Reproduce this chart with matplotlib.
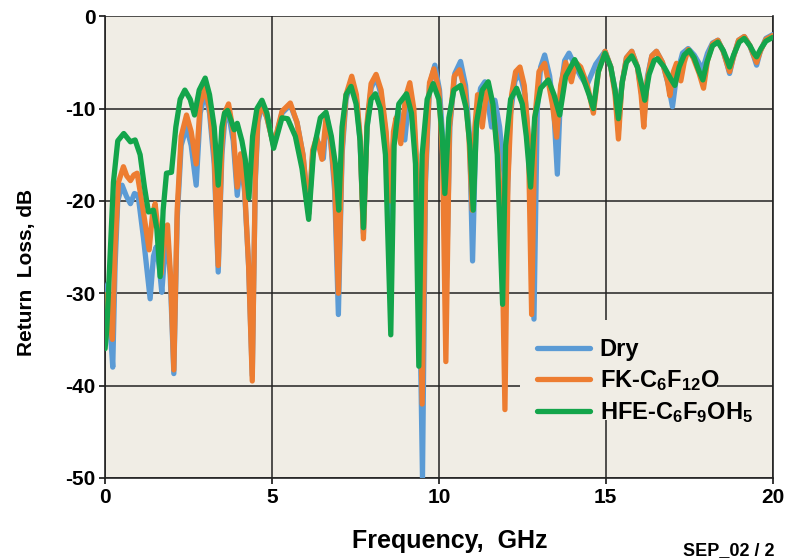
import matplotlib
matplotlib.use('Agg')
import matplotlib.pyplot as plt
from matplotlib.patches import Rectangle
import numpy as np

plt.rcParams['font.family'] = ['Liberation Sans', 'DejaVu Sans']
plt.rcParams['font.weight'] = 'bold'
plt.rcParams['axes.unicode_minus'] = False
plt.rcParams['mathtext.fontset'] = 'custom'
plt.rcParams['mathtext.rm'] = 'Liberation Sans:bold'
plt.rcParams['mathtext.bf'] = 'Liberation Sans:bold'
plt.rcParams['mathtext.default'] = 'rm'

# (frequency GHz, return loss dB)
dry = [(0.00, -33), (0.08, -29), (0.14, -33), (0.23, -38), (0.30, -27), (0.38, -20), (0.51, -18.3),
       (0.64, -19.5), (0.76, -20.3), (0.88, -19.2), (0.99, -19.4), (1.15, -24), (1.35, -30.6),
       (1.45, -26), (1.53, -25), (1.62, -27), (1.70, -29.9), (1.80, -25), (1.87, -24.3), (1.95, -28),
       (2.06, -38.7), (2.16, -22), (2.28, -14), (2.44, -12), (2.58, -14), (2.73, -18.3), (2.85, -10.5),
       (3.00, -8.2), (3.13, -10.5), (3.27, -16), (3.39, -27.7), (3.50, -15), (3.58, -11.5), (3.70, -10.5),
       (3.84, -13.5), (3.96, -19.4), (4.06, -15.6), (4.18, -19), (4.30, -27), (4.41, -38.9), (4.50, -18),
       (4.58, -11.5), (4.70, -9.6), (4.85, -11), (5.05, -14), (5.30, -10.5), (5.55, -9.6), (5.75, -11.5),
       (5.93, -15), (6.10, -21.4), (6.22, -15), (6.34, -13.5), (6.46, -14), (6.54, -15.4), (6.64, -10.8),
       (6.76, -13.5), (6.88, -19), (6.99, -32.3), (7.10, -15), (7.22, -9), (7.39, -6.9), (7.53, -9),
       (7.64, -13.5), (7.74, -23.5), (7.85, -12), (7.97, -7.8), (8.12, -6.6), (8.27, -8.5), (8.42, -13),
       (8.55, -22), (8.65, -13), (8.78, -10.2), (8.98, -13.4), (9.13, -8), (9.25, -11), (9.38, -20),
       (9.51, -50), (9.60, -18), (9.72, -7.5), (9.88, -5.3), (10.02, -8), (10.13, -14), (10.23, -28.3),
       (10.33, -12), (10.48, -6.2), (10.65, -4.9), (10.80, -7.5), (10.92, -13), (11.01, -26.5),
       (11.12, -11), (11.25, -7.8), (11.38, -7.1), (11.58, -12), (11.68, -9.1), (11.82, -12),
       (11.95, -17), (12.03, -22), (12.13, -11), (12.28, -7), (12.43, -6.2), (12.58, -8.5), (12.72, -15),
       (12.85, -32.8), (12.95, -10), (13.05, -5.5), (13.17, -4.2), (13.32, -6.5), (13.45, -10.5),
       (13.55, -17.1), (13.65, -8), (13.77, -4.8), (13.90, -4), (14.10, -5.5), (14.25, -6.5),
       (14.43, -7.5), (14.70, -5.2), (14.98, -3.8), (15.15, -5.5), (15.28, -8), (15.38, -12.4),
       (15.48, -7.5), (15.62, -4.5), (15.78, -3.8), (15.95, -5.5), (16.06, -8), (16.15, -10.9),
       (16.25, -6.5), (16.38, -4.3), (16.52, -3.8), (16.70, -5), (16.88, -7.5), (17.00, -9.8),
       (17.12, -6.5), (17.30, -4), (17.47, -3.5), (17.65, -4.2), (17.78, -5), (17.90, -5.8), (18.05, -4),
       (18.20, -2.9), (18.36, -2.6), (18.52, -3.8), (18.62, -5), (18.71, -6.2), (18.82, -4.5),
       (18.98, -2.6), (19.15, -2.2), (19.32, -3.2), (19.44, -4.4), (19.52, -5.3), (19.63, -3.8),
       (19.80, -2.4), (20.00, -2.0)]

fk = [(0.00, -33), (0.08, -30), (0.14, -32), (0.22, -35), (0.30, -25), (0.40, -18), (0.55, -16.3),
      (0.65, -17.3), (0.76, -17.8), (0.86, -17.2), (0.96, -17), (1.12, -20.5), (1.32, -25.3),
      (1.42, -21.5), (1.50, -20.3), (1.58, -23), (1.68, -27.9), (1.78, -23), (1.87, -22.6), (1.96, -28),
      (2.06, -38.3), (2.16, -21), (2.28, -13), (2.44, -10.7), (2.58, -12.5), (2.73, -16), (2.85, -9.5),
      (3.00, -7.7), (3.13, -10), (3.27, -15), (3.39, -27), (3.50, -14), (3.58, -10.5), (3.70, -9.5),
      (3.84, -12.5), (3.96, -18.5), (4.06, -14.9), (4.18, -18.5), (4.30, -27), (4.41, -39.5),
      (4.50, -17.5), (4.58, -11), (4.70, -9.5), (4.85, -11), (5.05, -14), (5.30, -10.3), (5.55, -9.4),
      (5.75, -11.5), (5.93, -15), (6.10, -21.4), (6.22, -14.5), (6.34, -13.1), (6.50, -15.5),
      (6.62, -11), (6.76, -13.5), (6.88, -18), (6.99, -30), (7.10, -14.5), (7.22, -8.5), (7.39, -6.5),
      (7.53, -8.5), (7.64, -13), (7.74, -24.1), (7.85, -11.5), (7.97, -7.3), (8.12, -6.3), (8.27, -8),
      (8.42, -12.5), (8.55, -20), (8.64, -12.5), (8.72, -11), (8.86, -13.8), (9.00, -8.8), (9.13, -7.2),
      (9.25, -10), (9.38, -19), (9.50, -42), (9.60, -17), (9.72, -7.2), (9.85, -5.7), (10.00, -8),
      (10.11, -15), (10.21, -37.4), (10.32, -12), (10.46, -6.5), (10.62, -5.8), (10.78, -8),
      (10.90, -13), (11.00, -21), (11.08, -12), (11.16, -8.5), (11.30, -12), (11.45, -7.5),
      (11.60, -9.5), (11.75, -14), (11.88, -22), (11.98, -42.6), (12.07, -18), (12.18, -8.5),
      (12.30, -6), (12.43, -5.5), (12.56, -7.5), (12.68, -13), (12.78, -32.3), (12.88, -11),
      (13.00, -6), (13.17, -5.1), (13.30, -7.5), (13.40, -9.5), (13.53, -13.1), (13.65, -7.5),
      (13.80, -5), (13.97, -7.1), (14.10, -5), (14.25, -5.5), (14.45, -7.5), (14.63, -10.5), (14.78, -6),
      (14.98, -3.8), (15.15, -5.5), (15.28, -8.5), (15.38, -13.3), (15.48, -7.5), (15.62, -4.5),
      (15.78, -3.8), (15.95, -5.5), (16.06, -8.5), (16.14, -12), (16.24, -7), (16.38, -4.3),
      (16.52, -3.8), (16.70, -5), (16.85, -7), (16.92, -8.6), (17.03, -6), (17.12, -5.1), (17.25, -7),
      (17.35, -5), (17.47, -3.6), (17.62, -4.5), (17.80, -6.2), (17.93, -7.8), (18.05, -4.8),
      (18.20, -3), (18.36, -2.6), (18.52, -3.8), (18.62, -5), (18.71, -6), (18.82, -4.5), (18.98, -2.6),
      (19.15, -2.2), (19.32, -3.2), (19.44, -4.3), (19.52, -5), (19.63, -3.8), (19.80, -2.5),
      (20.00, -2.1)]

hfe = [(0.00, -36), (0.05, -34), (0.15, -26), (0.25, -18), (0.38, -13.5), (0.56, -12.7), (0.76, -13.6),
       (0.90, -13.4), (1.05, -15), (1.18, -18.5), (1.30, -21.2), (1.45, -21), (1.55, -23), (1.65, -28.2),
       (1.74, -21), (1.84, -17), (1.99, -16.9), (2.12, -12), (2.25, -9), (2.39, -8), (2.55, -9),
       (2.68, -10.7), (2.82, -8), (3.00, -6.7), (3.13, -8.5), (3.27, -12), (3.39, -18.3), (3.50, -12),
       (3.58, -10.5), (3.67, -10.2), (3.87, -12.3), (3.96, -11.6), (4.10, -13.5), (4.20, -15.5),
       (4.31, -19.7), (4.42, -13), (4.55, -10), (4.70, -9.1), (4.85, -10.5), (5.05, -14.3), (5.30, -11),
       (5.47, -11.1), (5.70, -13), (5.90, -16.5), (6.10, -22), (6.25, -14.5), (6.45, -11), (6.62, -10.4),
       (6.78, -13), (6.90, -16), (7.00, -21), (7.10, -12), (7.22, -8.5), (7.37, -7.6), (7.52, -9.5),
       (7.64, -13.5), (7.74, -22.9), (7.85, -12), (7.97, -9), (8.10, -8.4), (8.25, -10), (8.40, -15),
       (8.56, -34.5), (8.66, -14), (8.80, -9.5), (9.03, -8.4), (9.18, -10.5), (9.30, -16), (9.40, -37.9),
       (9.50, -15), (9.65, -9), (9.83, -7.3), (10.00, -9), (10.10, -13), (10.18, -19.2), (10.30, -11),
       (10.45, -8), (10.65, -7.5), (10.82, -10), (10.93, -14), (11.03, -21), (11.13, -11.5), (11.30, -8),
       (11.48, -7.1), (11.62, -9.5), (11.75, -15), (11.91, -31.2), (12.00, -14), (12.15, -9),
       (12.33, -7.8), (12.50, -9.5), (12.62, -13), (12.75, -18.5), (12.87, -11), (13.05, -7.8),
       (13.28, -6.9), (13.45, -8.5), (13.62, -10.7), (13.80, -6.5), (14.07, -4.7), (14.30, -6.5),
       (14.50, -8.5), (14.63, -10), (14.78, -6), (14.98, -4), (15.15, -5.5), (15.28, -8), (15.38, -11.1),
       (15.50, -7), (15.62, -5), (15.78, -4.3), (15.95, -5.5), (16.08, -7.5), (16.17, -9.1), (16.30, -6.3),
       (16.45, -4.8), (16.55, -4.6), (16.75, -5.5), (16.95, -6.8), (17.07, -7.5), (17.20, -5.5),
       (17.35, -4.2), (17.50, -3.7), (17.65, -4.5), (17.80, -6), (17.91, -6.9), (18.03, -5), (18.20, -3.2),
       (18.36, -2.8), (18.52, -3.7), (18.62, -4.6), (18.71, -5.5), (18.83, -4.2), (19.00, -2.8),
       (19.15, -2.4), (19.32, -3.2), (19.44, -4), (19.52, -4.4), (19.65, -3.5), (19.80, -2.7),
       (20.00, -2.3)]

labels = ['Dry', 'FK-C$_6$F$_{12}$O', 'HFE-C$_6$F$_9$OH$_5$']
colors = ['#5b9bd5', '#ed7d31', '#13a54b']
xticks = [0, 5, 10, 15, 20]
yticks = [0, -10, -20, -30, -40, -50]

bg = '#f0ede5'
fig = plt.figure(figsize=(7.9, 5.59), dpi=100)
ax = fig.add_axes([0.133, 0.145, 0.845, 0.826])
ax.set_facecolor(bg)

series = [dry, fk, hfe]
handles = [None, None, None]
for i in [1, 0, 2]:
    d = np.array(series[i])
    handles[i], = ax.plot(d[:, 0], d[:, 1], color=colors[i], lw=3.8, label=labels[i],
                          zorder=3 + i * 0.1, solid_joinstyle='round', solid_capstyle='round')

ax.set_xlim(0, 20)
ax.set_ylim(-50, 0)
ax.set_xticks(xticks)
ax.set_yticks(yticks)
ax.grid(True, color='#222222', lw=1.1)
ax.set_axisbelow(True)
ax.tick_params(labelsize=15, length=4, width=1.1, direction='out', pad=3)
for lab in ax.get_xticklabels() + ax.get_yticklabels():
    lab.set_fontweight('bold')
ax.spines['top'].set_visible(False)
for s in ['left', 'bottom', 'right']:
    ax.spines[s].set_color('#222222')
    ax.spines[s].set_linewidth(1.2)

fig.text(450 / 790, 1 - 541 / 559, 'Frequency,  GHz', fontsize=18, fontweight='bold',
         ha='center', va='center')
fig.text(27 / 790, 1 - 272 / 559, 'Return  Loss, dB', fontsize=15, fontweight='bold',
         rotation=90, ha='center', va='center')

# legend background patch (hides grid behind the labels)
ax.add_patch(Rectangle((0.621, 0.125), 0.295, 0.217, transform=ax.transAxes,
                       facecolor=bg, edgecolor='none', zorder=2))
leg = ax.legend(handles, labels, loc='upper left', bbox_to_anchor=(0.636, 0.318),
                fontsize=17, frameon=False, handlelength=2.25, handletextpad=0.42,
                labelspacing=0.3, borderpad=0.3, borderaxespad=0)
leg.set_zorder(5)
for t in leg.get_texts():
    t.set_fontweight('bold')

fig.text(683 / 790, 1 - 555 / 559, 'SEP_02 / 2', fontsize=13, fontweight='bold',
         ha='left', va='baseline')

fig.savefig('out.png', dpi=100)
